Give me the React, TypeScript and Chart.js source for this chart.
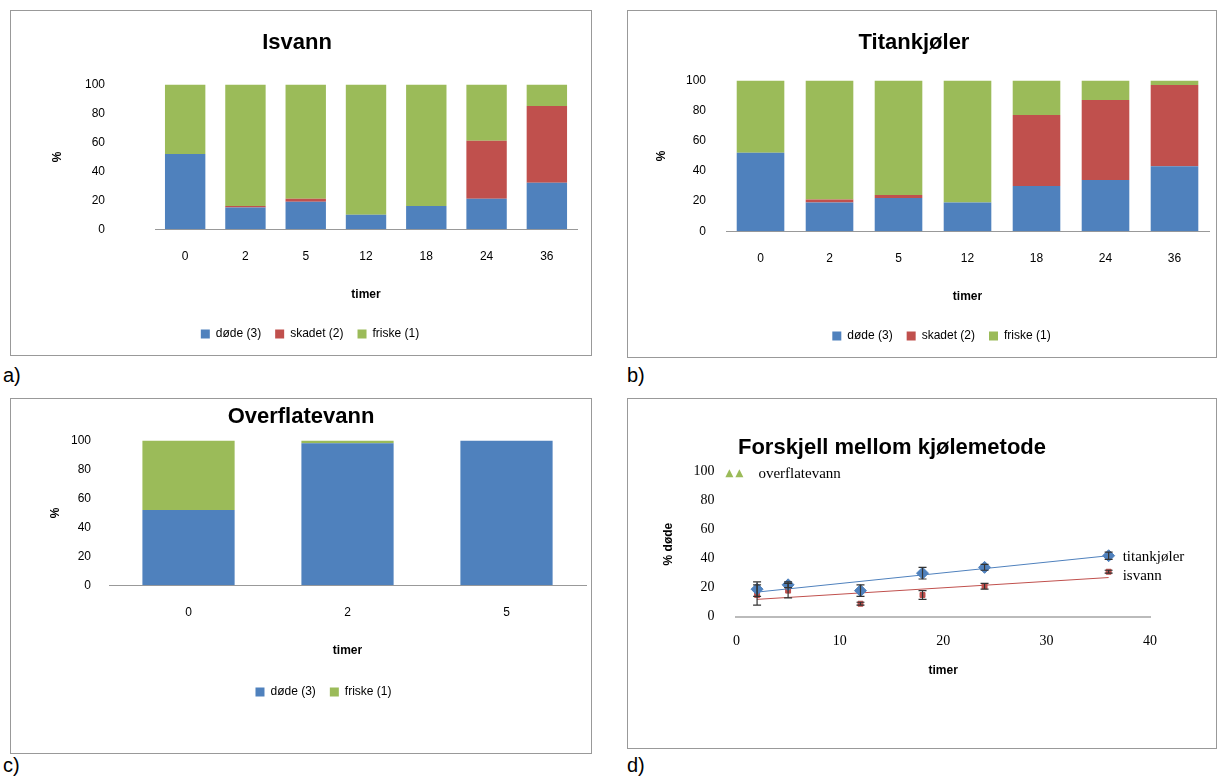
import React, { useEffect, useRef } from "react";
import { Chart, registerables } from "chart.js";
Chart.register(...registerables);

const isvannCats = ["0", "2", "5", "12", "18", "24", "36"];
const isvannDode = [52, 15, 19, 10, 16, 21, 32];
const isvannSkadet = [0, 1, 2, 0, 0, 40, 53];
const isvannFriske = [48, 84, 79, 90, 84, 39, 15];

const titanCats = ["0", "2", "5", "12", "18", "24", "36"];
const titanDode = [52, 19, 22, 19, 30, 34, 43];
const titanSkadet = [0, 2, 2, 0, 47, 53, 54];
const titanFriske = [48, 79, 76, 81, 23, 13, 3];

const overCats = ["0", "2", "5"];
const overDode = [52, 98, 100];
const overFriske = [48, 2, 0];

const diffHours = [2, 5, 12, 18, 24, 36];
const titanMean = [19, 22, 18, 30, 34, 42];
const titanErr = [5, 2, 4, 4, 2, 2.5];
const isvannMean = [15, 18, 9, 15, 21, 31];
const isvannErr = [7, 5, 1, 3, 2, 1];
const titanTrend = [{ x: 2, y: 17 }, { x: 36, y: 42 }];
const isvannTrend = [{ x: 2, y: 12 }, { x: 36, y: 27 }];

const BLUE = "#4f81bd", RED = "#c0504d", GREEN = "#9bbb59";
const SANS = "'Liberation Sans', Arial, sans-serif";
const SERIF = "'Liberation Serif', serif";

const centerTitle = {
  id: "ctitle",
  afterDraw(chart: any) {
    const tb = chart.titleBlock;
    if (!tb) return;
    const ctx = chart.ctx;
    ctx.save(); ctx.fillStyle = "#000"; ctx.font = "bold 22px " + SANS;
    ctx.textAlign = "center"; ctx.textBaseline = "middle";
    const p = tb.options.padding;
    ctx.fillText(tb.options.text, chart.width / 2 + (chart.options.titleShift || 0), tb.top + p.top + (tb.height - p.top - p.bottom) / 2);
    ctx.restore();
  },
};

function BarPanel({ title, cats, series, w, h, pad, titlePad, tickPad, barPct, legendGap, yTitleOff, shift }: any) {
  const ref = useRef<HTMLCanvasElement>(null);
  useEffect(() => {
    const yTitle = {
      id: "ytitle",
      afterDraw(chart: any) {
        const ctx = chart.ctx, ca = chart.chartArea;
        ctx.save(); ctx.fillStyle = "#000"; ctx.font = "bold 12px " + SANS;
        ctx.translate(ca.left - yTitleOff, (ca.top + ca.bottom) / 2); ctx.rotate(-Math.PI / 2);
        ctx.textAlign = "center"; ctx.textBaseline = "middle"; ctx.fillText("%", 0, 0); ctx.restore();
      },
    };
    const c = new Chart(ref.current!, {
      type: "bar",
      data: {
        labels: cats,
        datasets: series.map((s: any) => ({ label: s.label, data: s.data, backgroundColor: s.color, barPercentage: barPct, categoryPercentage: 1 })),
      },
      options: {
        animation: false, responsive: false, titleShift: shift || 0,
        layout: { padding: pad },
        plugins: {
          title: { display: true, text: title, font: { family: SANS, size: 22, weight: "bold" }, color: "rgba(0,0,0,0)", padding: titlePad },
          legend: { position: "bottom", labels: { boxWidth: 9, boxHeight: 9, font: { family: SANS, size: 12 }, color: "#000", padding: 14 } },
          tooltip: { enabled: false },
        },
        scales: {
          x: { stacked: true, grid: { display: false }, border: { display: true, color: "#999" }, ticks: { font: { family: SANS, size: 12 }, color: "#000", padding: 12 },
            title: { display: true, text: "timer", font: { family: SANS, size: 12, weight: "bold" }, color: "#000", padding: { top: 12, bottom: legendGap } } },
          y: { stacked: true, min: 0, max: 100, grid: { display: false }, border: { display: false }, ticks: { stepSize: 20, font: { family: SANS, size: 12 }, color: "#000", padding: tickPad },
            title: { display: false } },
        },
      } as any,
      plugins: [yTitle, centerTitle],
    });
    return () => c.destroy();
  }, []);
  return <canvas ref={ref} width={w} height={h} style={{ display: "block" }} />;
}

function DiffPanel() {
  const ref = useRef<HTMLCanvasElement>(null);
  useEffect(() => {
    const errPlugin = {
      id: "err",
      afterDatasetsDraw(chart: any) {
        const ctx = chart.ctx, xs = chart.scales.x, ys = chart.scales.y;
        const draw = (means: number[], errs: number[], color: string) => {
          ctx.save(); ctx.strokeStyle = color; ctx.lineWidth = 1.2;
          diffHours.forEach((hh, i) => {
            const px = xs.getPixelForValue(hh);
            const t = ys.getPixelForValue(means[i] + errs[i]), b = ys.getPixelForValue(means[i] - errs[i]);
            ctx.beginPath(); ctx.moveTo(px, t); ctx.lineTo(px, b);
            ctx.moveTo(px - 4, t); ctx.lineTo(px + 4, t); ctx.moveTo(px - 4, b); ctx.lineTo(px + 4, b); ctx.stroke();
          });
          ctx.restore();
        };
        draw(isvannMean, isvannErr, "#333");
        draw(titanMean, titanErr, "#333");
        ctx.save(); ctx.fillStyle = "#000"; ctx.font = "15px " + SERIF; ctx.textBaseline = "middle";
        ctx.fillText("titankjøler", xs.getPixelForValue(36) + 14, ys.getPixelForValue(41));
        ctx.fillText("isvann", xs.getPixelForValue(36) + 14, ys.getPixelForValue(28));
        const ly = ys.getPixelForValue(98);
        ctx.fillText("overflatevann", xs.left + 22, ly);
        ctx.fillStyle = GREEN;
        [xs.left - 7, xs.left + 3].forEach((tx) => {
          ctx.beginPath(); ctx.moveTo(tx - 4, ly + 3); ctx.lineTo(tx + 4, ly + 3); ctx.lineTo(tx, ly - 5); ctx.closePath(); ctx.fill();
        });
        ctx.restore();
      },
    };
    const c = new Chart(ref.current!, {
      type: "scatter",
      data: {
        datasets: [
          { label: "titankjøler", data: diffHours.map((hh, i) => ({ x: hh, y: titanMean[i] })), pointStyle: "rectRot", pointRadius: 6, backgroundColor: BLUE, borderColor: BLUE },
          { label: "isvann", data: diffHours.map((hh, i) => ({ x: hh, y: isvannMean[i] })), pointStyle: "rect", pointRadius: 3.5, backgroundColor: RED, borderColor: RED },
          { type: "line", data: titanTrend, borderColor: BLUE, borderWidth: 1, pointRadius: 0 },
          { type: "line", data: isvannTrend, borderColor: RED, borderWidth: 1, pointRadius: 0 },
        ],
      },
      options: {
        animation: false, responsive: false, titleShift: -30,
        layout: { padding: { left: 29, right: 66, top: 0, bottom: 66 } },
        plugins: {
          title: { display: true, text: "Forskjell mellom kjølemetode", font: { family: SANS, size: 22, weight: "bold" }, color: "rgba(0,0,0,0)", padding: { top: 36, bottom: 10 } },
          legend: { display: false }, tooltip: { enabled: false },
        },
        scales: {
          x: { type: "linear", min: 0, max: 40, grid: { display: false }, border: { color: "#bbb", width: 2 }, ticks: { stepSize: 10, font: { family: SERIF, size: 14 }, color: "#000", padding: 8 },
            title: { display: true, text: "timer", font: { family: SANS, size: 12, weight: "bold" }, color: "#000", padding: { top: 6 } } },
          y: { min: 0, max: 100, grid: { display: false }, border: { display: false }, ticks: { stepSize: 20, font: { family: SERIF, size: 14 }, color: "#000", padding: 14 },
            title: { display: true, text: "% døde", font: { family: SANS, size: 12, weight: "bold" }, color: "#000" } },
        },
      } as any,
      plugins: [errPlugin, centerTitle],
    });
    return () => c.destroy();
  }, []);
  return <canvas ref={ref} width={588} height={349} style={{ display: "block" }} />;
}

const box: React.CSSProperties = { position: "absolute", border: "1px solid #999", boxSizing: "border-box", background: "#fff" };
const lab: React.CSSProperties = { position: "absolute", fontFamily: SANS, fontSize: 20 };

export default function App() {
  return (
    <div style={{ position: "fixed", left: 0, top: 0, width: 1226, height: 781, background: "#fff" }}>
      <div style={{ ...box, left: 10, top: 10, width: 582, height: 346 }}>
        <BarPanel title="Isvann" w={580} h={344} pad={{ left: 32, right: 14, top: 5, bottom: 5 }} titlePad={{ top: 14, bottom: 28 }} tickPad={42} barPct={0.67} legendGap={12} yTitleOff={97} shift={-4}
          cats={isvannCats} series={[{ label: "døde (3)", data: isvannDode, color: BLUE }, { label: "skadet (2)", data: isvannSkadet, color: RED }, { label: "friske (1)", data: isvannFriske, color: GREEN }]} />
      </div>
      <div style={{ ...lab, left: 3, top: 364 }}>a)</div>
      <div style={{ ...box, left: 627, top: 10, width: 590, height: 348 }}>
        <BarPanel title="Titankjøler" w={588} h={346} pad={{ left: 46, right: 7, top: 5, bottom: 5 }} titlePad={{ top: 14, bottom: 24 }} tickPad={12} barPct={0.69} legendGap={12} yTitleOff={64} shift={-8}
          cats={titanCats} series={[{ label: "døde (3)", data: titanDode, color: BLUE }, { label: "skadet (2)", data: titanSkadet, color: RED }, { label: "friske (1)", data: titanFriske, color: GREEN }]} />
      </div>
      <div style={{ ...lab, left: 627, top: 364 }}>b)</div>
      <div style={{ ...box, left: 10, top: 398, width: 582, height: 356 }}>
        <BarPanel title="Overflatevann" w={580} h={354} pad={{ left: 50, right: 5, top: 5, bottom: 45 }} titlePad={{ top: 0, bottom: 10 }} tickPad={10} barPct={0.58} legendGap={14} yTitleOff={53} shift={0}
          cats={overCats} series={[{ label: "døde (3)", data: overDode, color: BLUE }, { label: "friske (1)", data: overFriske, color: GREEN }]} />
      </div>
      <div style={{ ...lab, left: 3, top: 754 }}>c)</div>
      <div style={{ ...box, left: 627, top: 398, width: 590, height: 351 }}>
        <DiffPanel />
      </div>
      <div style={{ ...lab, left: 627, top: 754 }}>d)</div>
    </div>
  );
}
